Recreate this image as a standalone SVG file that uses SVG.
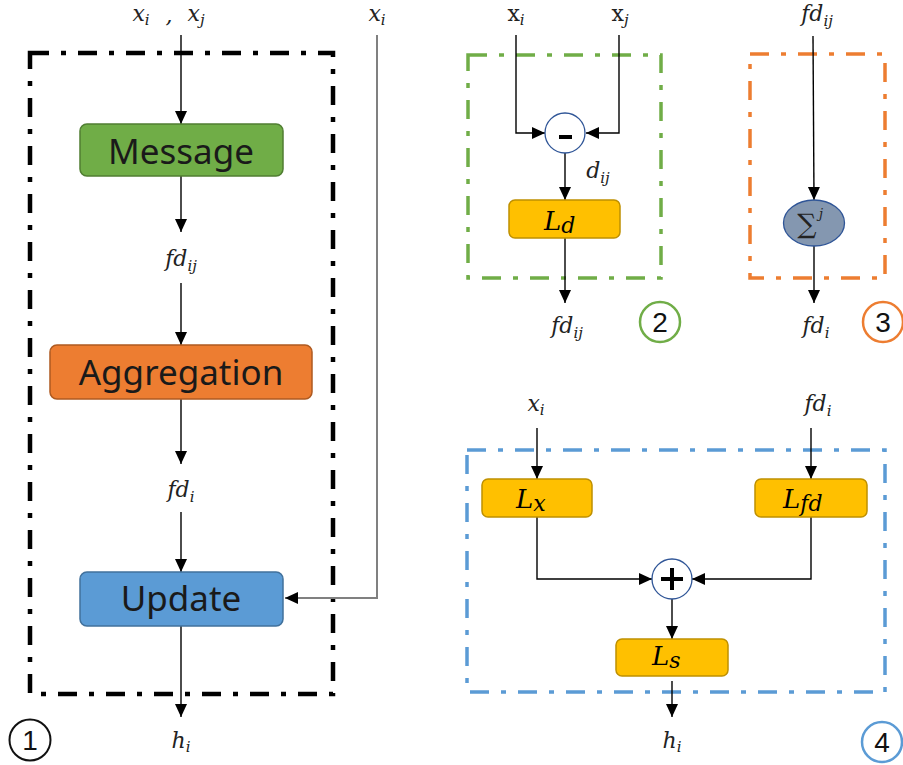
<svg xmlns="http://www.w3.org/2000/svg" width="903" height="765" viewBox="0 0 903 765">
<style>
.math{font-family:"DejaVu Serif","Liberation Serif",serif;font-style:italic;font-size:22px;fill:#222;text-anchor:middle}
.sub{font-size:15px}
.roman{font-style:normal}
.box{font-family:"Noto Sans","Open Sans",sans-serif;font-size:35px;fill:#1a1a1a;text-anchor:middle}
.ln{fill:none;stroke:#000;stroke-width:1.4}
.num{font-family:"Liberation Sans","DejaVu Sans",sans-serif;font-size:28px;fill:#111;text-anchor:middle}
.dash{fill:none;stroke-dasharray:19 12 5 12}
.yl{fill:#FFC000;stroke:#BF9000;stroke-width:1.5}
.big{font-size:26px;fill:#000;text-anchor:start}
</style>
<defs>
<marker id="ah" markerUnits="userSpaceOnUse" markerWidth="13" markerHeight="13" viewBox="0 0 13 13" refX="13" refY="6.5" orient="auto">
<path d="M0,0.5 L13,6.5 L0,12.5 z" fill="#000"/>
</marker>
</defs>

<!-- frames -->
<g id="frame1"><rect class="dash" x="30" y="53" width="303" height="641" stroke="#000" stroke-width="4.5"/></g>
<g id="frame2"><rect class="dash" x="468" y="55" width="193" height="223" stroke="#70AD47" stroke-width="3.5"/></g>
<g id="frame3"><rect class="dash" x="750" y="54" width="135" height="224" stroke="#ED7D31" stroke-width="3.5"/></g>
<g id="frame4"><rect class="dash" x="467" y="450" width="418" height="242" stroke="#5B9BD5" stroke-width="3.5"/></g>

<!-- connectors -->
<g id="connectors">
<line class="ln" x1="181" y1="35" x2="181" y2="124" marker-end="url(#ah)"/>
<line class="ln" x1="181" y1="176" x2="181" y2="232" marker-end="url(#ah)"/>
<line class="ln" x1="181" y1="283" x2="181" y2="345" marker-end="url(#ah)"/>
<line class="ln" x1="181" y1="399" x2="181" y2="464" marker-end="url(#ah)"/>
<line class="ln" x1="181" y1="512" x2="181" y2="572" marker-end="url(#ah)"/>
<line class="ln" x1="181" y1="626" x2="181" y2="717" marker-end="url(#ah)"/>
<polyline points="377,35 377,598 285,598" fill="none" stroke="#808080" stroke-width="2" marker-end="url(#ah)"/>

<polyline class="ln" points="516,35 516,133 545,133" marker-end="url(#ah)"/>
<polyline class="ln" points="619,35 619,133 586,133" marker-end="url(#ah)"/>
<line class="ln" x1="565" y1="153" x2="565" y2="200" marker-end="url(#ah)"/>
<line class="ln" x1="565" y1="238" x2="565" y2="303" marker-end="url(#ah)"/>

<line class="ln" x1="813" y1="36" x2="814" y2="200" marker-end="url(#ah)"/>
<line class="ln" x1="814" y1="246" x2="814" y2="303" marker-end="url(#ah)"/>

<line class="ln" x1="537" y1="428" x2="537" y2="479" marker-end="url(#ah)"/>
<line class="ln" x1="811" y1="428" x2="811" y2="479" marker-end="url(#ah)"/>
<polyline class="ln" points="537,517 537,579 652,579" marker-end="url(#ah)"/>
<polyline class="ln" points="811,517 811,579 692,579" marker-end="url(#ah)"/>
<line class="ln" x1="672" y1="599" x2="672" y2="639" marker-end="url(#ah)"/>
<line class="ln" x1="672" y1="681" x2="672" y2="717" marker-end="url(#ah)"/>
</g>

<!-- panel 1 nodes -->
<g id="message">
<rect x="80" y="124" width="203" height="52" rx="7" fill="#70AD47" stroke="#507E32" stroke-width="1.5"/>
<text class="box" x="181" y="164">Message</text>
</g>
<g id="aggregation">
<rect x="50" y="345" width="262" height="54" rx="7" fill="#ED7D31" stroke="#AE5A21" stroke-width="1.5"/>
<text class="box" x="181" y="385">Aggregation</text>
</g>
<g id="update">
<rect x="80" y="572" width="203" height="54" rx="7" fill="#5B9BD5" stroke="#41719C" stroke-width="1.5"/>
<text class="box" x="181" y="611">Update</text>
</g>

<g id="labels1">
<text class="math" x="141" y="21">x<tspan class="sub" dy="4">i</tspan></text>
<text class="math" x="169" y="23">,</text>
<text class="math" x="196" y="21">x<tspan class="sub" dy="4">j</tspan></text>
<text class="math" x="377" y="21">x<tspan class="sub" dy="4">i</tspan></text>
<text class="math" x="181" y="266">fd<tspan class="sub" dy="5">ij</tspan></text>
<text class="math" x="181" y="497">fd<tspan class="sub" dy="5">i</tspan></text>
<text class="math" x="181" y="748">h<tspan class="sub" dy="4">i</tspan></text>
</g>
<g id="num1">
<circle cx="30" cy="740" r="20.5" fill="none" stroke="#111" stroke-width="2"/>
<text class="num" x="30" y="750">1</text>
</g>

<!-- panel 2 -->
<g id="in2">
<text class="math" x="516" y="21"><tspan class="roman">x</tspan><tspan class="sub" dy="4">i</tspan></text>
<text class="math" x="620" y="21"><tspan class="roman">x</tspan><tspan class="sub" dy="4">j</tspan></text>
</g>
<g id="minus">
<circle cx="565" cy="133" r="20" fill="#fff" stroke="#2F5597" stroke-width="1.3"/>
<rect x="559" y="135" width="13" height="4" fill="#000"/>
</g>
<text class="math" x="598" y="178">d<tspan class="sub" dy="5">ij</tspan></text>
<g id="Ld">
<rect class="yl" x="509" y="200" width="111" height="38" rx="6"/>
<text class="math big" x="544" y="230">L<tspan dy="3" style="font-size:22px">d</tspan></text>
</g>
<text class="math" x="567" y="333">fd<tspan class="sub" dy="5">ij</tspan></text>
<g id="num2">
<circle cx="660" cy="322" r="20" fill="none" stroke="#70AD47" stroke-width="2.5"/>
<text class="num" x="660" y="332">2</text>
</g>

<!-- panel 3 -->
<text class="math" x="817" y="21">fd<tspan class="sub" dy="5">ij</tspan></text>
<g id="sum">
<ellipse cx="814" cy="223" rx="30.5" ry="23" fill="#8497B0" stroke="#2F5597" stroke-width="1.3"/>
<text x="807" y="233" text-anchor="middle" style="font-family:'DejaVu Serif',serif;font-size:27px;fill:#222">∑</text>
<text x="819" y="218" style="font-family:'DejaVu Serif',serif;font-style:italic;font-size:13px;fill:#222">j</text>
</g>
<text class="math" x="816" y="333">fd<tspan class="sub" dy="5">i</tspan></text>
<g id="num3">
<circle cx="883" cy="322" r="20" fill="none" stroke="#ED7D31" stroke-width="2.5"/>
<text class="num" x="883" y="332">3</text>
</g>

<!-- panel 4 -->
<text class="math" x="536" y="411">x<tspan class="sub" dy="4">i</tspan></text>
<text class="math" x="818" y="411">fd<tspan class="sub" dy="5">i</tspan></text>
<g id="Lx">
<rect class="yl" x="482" y="479" width="110" height="38" rx="6"/>
<text class="math big" x="516" y="508">L<tspan dy="3" style="font-size:22px">x</tspan></text>
</g>
<g id="Lfd">
<rect class="yl" x="755" y="479" width="112" height="38" rx="6"/>
<text class="math big" x="783" y="508">L<tspan dy="3" style="font-size:22px">fd</tspan></text>
</g>
<g id="plus">
<circle cx="672" cy="579" r="20" fill="#fff" stroke="#2F5597" stroke-width="1.3"/>
<rect x="661" y="577" width="22" height="4" fill="#000"/>
<rect x="670" y="568" width="4" height="22" fill="#000"/>
</g>
<g id="Ls">
<rect class="yl" x="616" y="639" width="112" height="37" rx="6"/>
<text class="math big" x="652" y="665">L<tspan dy="3" style="font-size:22px">s</tspan></text>
</g>
<text class="math" x="672" y="748">h<tspan class="sub" dy="4">i</tspan></text>
<g id="num4">
<circle cx="882" cy="742" r="20" fill="none" stroke="#5B9BD5" stroke-width="2.5"/>
<text class="num" x="882" y="752">4</text>
</g>
</svg>
